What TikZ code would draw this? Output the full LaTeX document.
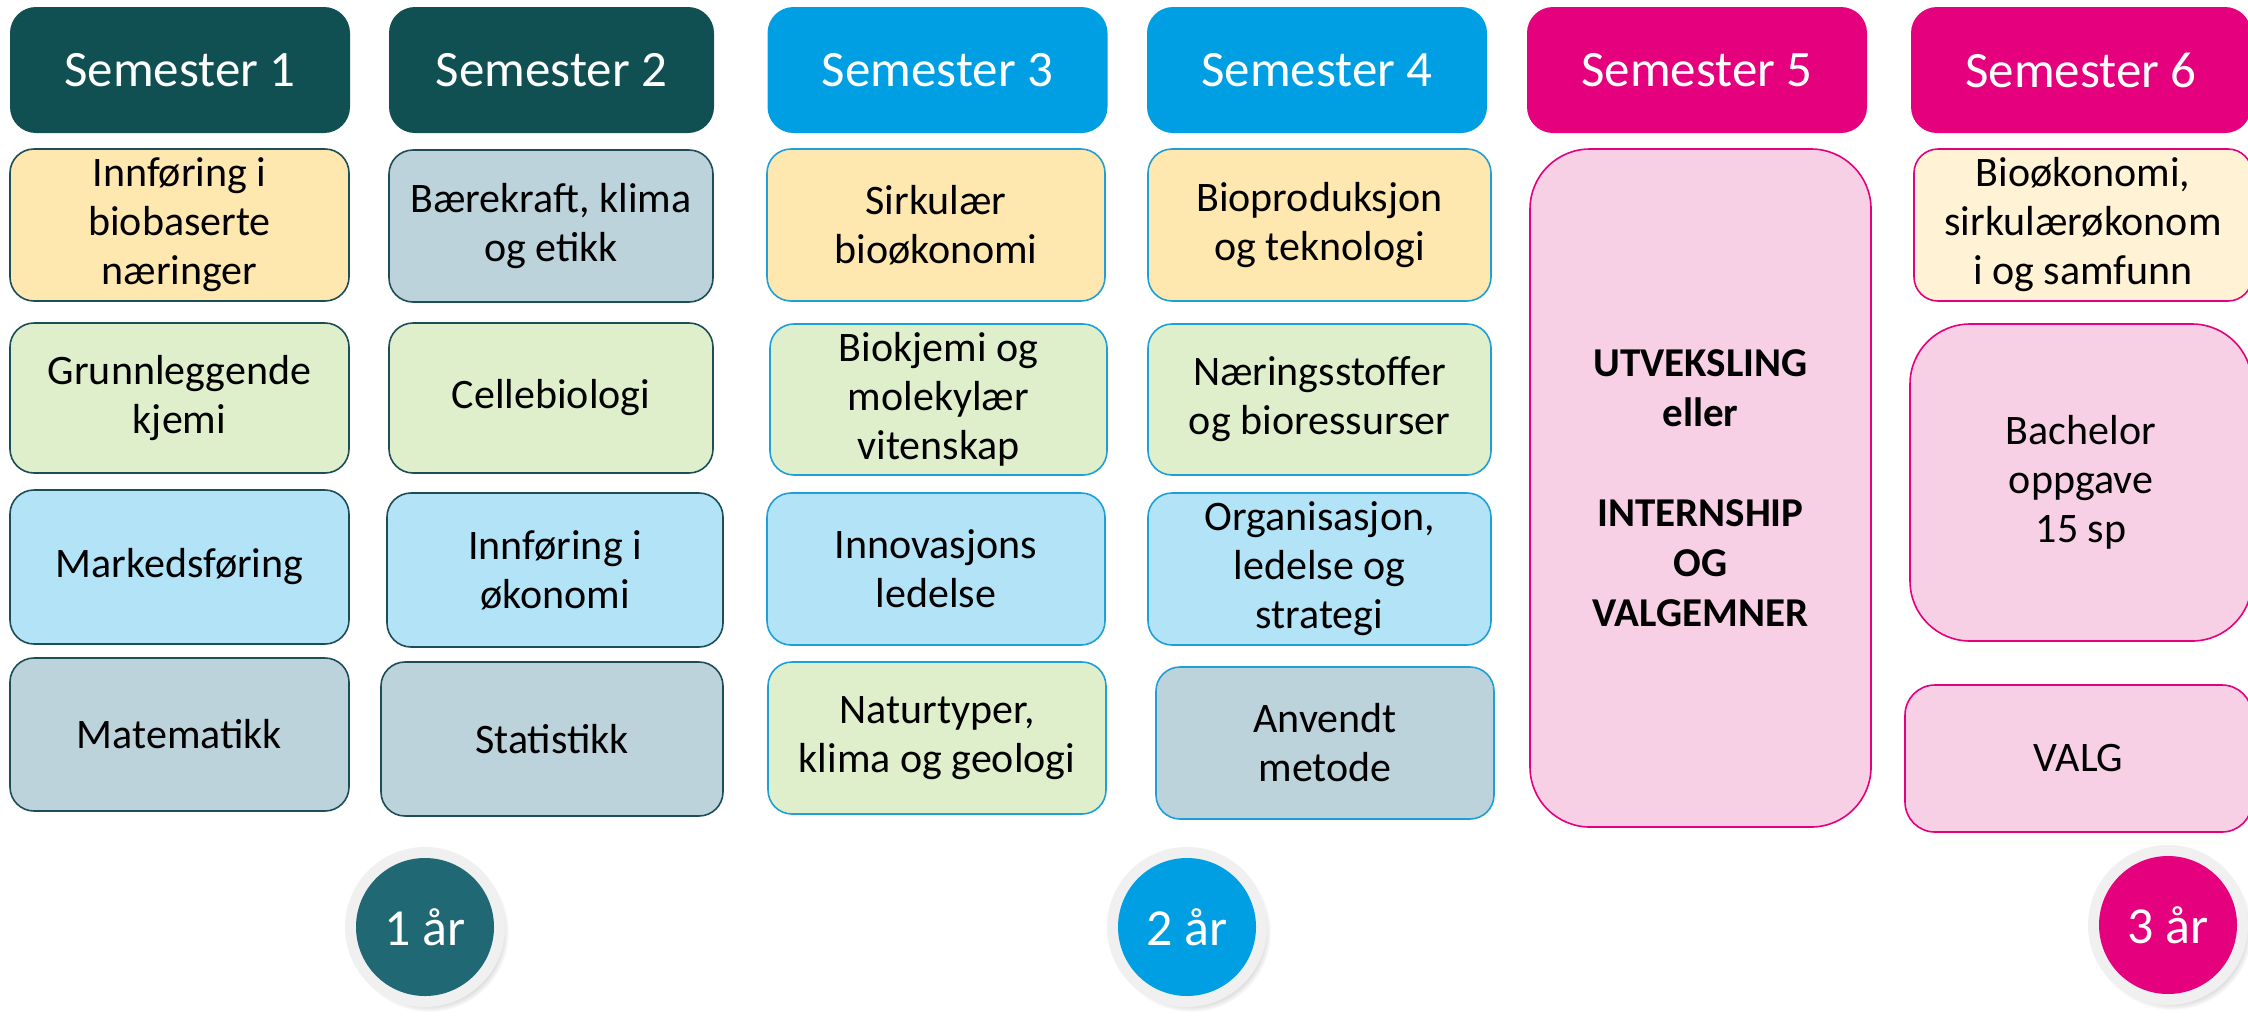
\documentclass[tikz,border=0pt]{standalone}
\usepackage{fontspec}
\setmainfont{Carlito}
\usetikzlibrary{shadows}
\definecolor{hdrteal}{HTML}{115052}
\definecolor{hdrblue}{HTML}{009FE3}
\definecolor{hdrmag}{HTML}{E5007D}
\definecolor{yrteal}{HTML}{1F6874}
\definecolor{ringgray}{HTML}{F0F0F0}
\definecolor{cyel}{HTML}{FFE8AF}
\definecolor{clyel}{HTML}{FFF2D5}
\definecolor{cgreen}{HTML}{DFEFCB}
\definecolor{cblue}{HTML}{B3E3F7}
\definecolor{cgray}{HTML}{BCD3DB}
\definecolor{cpink}{HTML}{F8D0E6}
\definecolor{bteal}{HTML}{1D4E58}
\definecolor{bblue}{HTML}{1E9FD8}
\definecolor{bmag}{HTML}{E5007D}
\begin{document}
\begin{tikzpicture}[x=1pt,y=-1pt,
  hdr/.style={rounded corners=26pt, inner sep=0pt, text=white, align=center,
    font=\fontsize{51}{60}\selectfont, minimum width=340pt, minimum height=126pt},
  crs/.style={rounded corners=24pt, line width=1.6pt, inner sep=0pt, align=center,
    font=\fontsize{42}{49}\selectfont, minimum height=152pt},
  c12/.style={crs, draw=bteal},
  c34/.style={crs, draw=bblue},
  c56/.style={crs, draw=bmag},
  ring/.style={circle, fill=ringgray, minimum size=160pt, inner sep=0pt,
    circular drop shadow={shadow xshift=4pt, shadow yshift=-5pt, shadow scale=1.0, opacity=0.45}},
  year/.style={circle, minimum size=138pt, inner sep=0pt, text=white,
    font=\fontsize{52}{60}\selectfont}
]
\useasboundingbox (0,0) rectangle (2248,1029);
\clip (0,0) rectangle (2248,1029);
\fill[white] (0,0) rectangle (2248,1029);

% headers
\node[hdr, fill=hdrteal] (h1) at (180,70) {Semester 1};
\node[hdr, fill=hdrteal, minimum width=325pt] (h2) at (551.5,70) {Semester 2};
\node[hdr, fill=hdrblue] (h3) at (937.5,70) {Semester 3};
\node[hdr, fill=hdrblue] (h4) at (1317,70) {Semester 4};
\node[hdr, fill=hdrmag] (h5) at (1697,70) {Semester 5};
\node[hdr, fill=hdrmag] (h6) at (2081,70) {Semester 6};

% column 1
\node[c12, fill=cyel, minimum width=339pt] (a1) at (179.5,225) {Innføring i\\biobaserte\\næringer};
\node[c12, fill=cgreen, minimum width=339pt, minimum height=150pt] (a2) at (179.5,398) {Grunnleggende\\kjemi};
\node[c12, fill=cblue, minimum width=339pt, minimum height=154pt] (a3) at (179.5,567) {Markedsføring};
\node[c12, fill=cgray, minimum width=339pt, minimum height=153pt] (a4) at (179.5,734.5) {Matematikk};

% column 2
\node[c12, fill=cgray, minimum width=324pt] (b1) at (551,226) {Bærekraft, klima\\og etikk};
\node[c12, fill=cgreen, minimum width=324pt, minimum height=150pt] (b2) at (551,398) {Cellebiologi};
\node[c12, fill=cblue, minimum width=336pt, minimum height=154pt] (b3) at (555,570) {Innføring i\\økonomi};
\node[c12, fill=cgray, minimum width=342pt, minimum height=154pt] (b4) at (552,739) {Statistikk};

% column 3
\node[c34, fill=cyel, minimum width=338pt] (d1) at (936,225) {Sirkulær\\bioøkonomi};
\node[c34, fill=cgreen, minimum width=337pt, minimum height=151pt] (d2) at (938.5,399.5) {Biokjemi og\\molekylær\\vitenskap};
\node[c34, fill=cblue, minimum width=338pt] (d3) at (936,569) {Innovasjons\\ledelse};
\node[c34, fill=cgreen, minimum width=338pt] (d4) at (937,738) {Naturtyper,\\klima og geologi};

% column 4
\node[c34, fill=cyel, minimum width=343pt] (e1) at (1319.5,225) {Bioproduksjon\\og teknologi};
\node[c34, fill=cgreen, minimum width=343pt, minimum height=151pt] (e2) at (1319.5,399.5) {Næringsstoffer\\og bioressurser};
\node[c34, fill=cblue, minimum width=343pt] (e3) at (1319.5,569) {Organisasjon,\\ledelse og\\strategi};
\node[c34, fill=cgray, minimum width=338pt] (e4) at (1325,743) {Anvendt\\metode};

% column 5
\node[c56, fill=cpink, rounded corners=60pt, minimum width=341pt, minimum height=678pt,
  font=\fontsize{41}{50}\selectfont\bfseries] (f1) at (1700.5,488)
  {UTVEKSLING\\eller\\[50pt]INTERNSHIP\\OG\\VALGEMNER};

% column 6
\node[c56, fill=clyel, minimum width=338pt] (g1) at (2083,225) {Bioøkonomi,\\sirkulærøkonom\\i og samfunn};
\node[c56, fill=cpink, rounded corners=60pt, minimum width=342pt, minimum height=317pt] (g2) at (2081,482.5) {Bachelor\\oppgave\\15 sp};
\node[c56, fill=cpink, rounded corners=30pt, minimum width=347pt, minimum height=147pt] (g3) at (2078.5,758.5) {VALG};

% year circles
\node[ring] (r1) at (425,927) {};
\node[year, fill=yrteal] (y1) at (r1) {1 år};
\node[ring] (r2) at (1187,927) {};
\node[year, fill=hdrblue] (y2) at (r2) {2 år};
\node[ring] (r3) at (2168,925) {};
\node[year, fill=hdrmag] (y3) at (r3) {3 år};
\end{tikzpicture}
\end{document}
